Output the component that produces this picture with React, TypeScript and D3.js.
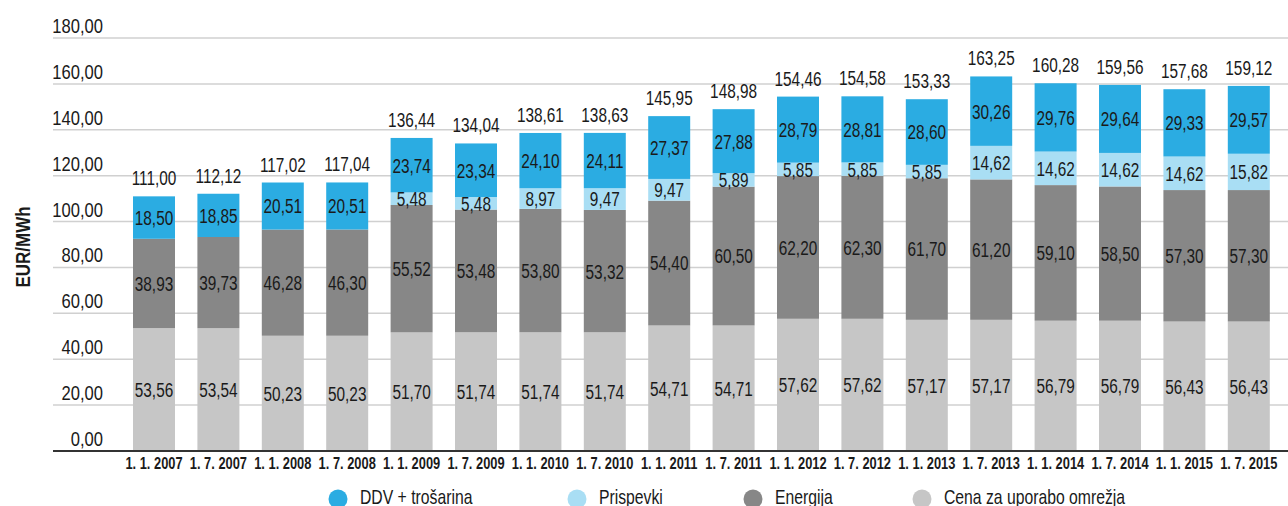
import React from "react";
import * as d3 from "d3";

const dates = [
  "1. 1. 2007", "1. 7. 2007", "1. 1. 2008", "1. 7. 2008", "1. 1. 2009", "1. 7. 2009",
  "1. 1. 2010", "1. 7. 2010", "1. 1. 2011", "1. 7. 2011", "1. 1. 2012", "1. 7. 2012",
  "1. 1. 2013", "1. 7. 2013", "1. 1. 2014", "1. 7. 2014", "1. 1. 2015", "1. 7. 2015",
];
const cena = [53.56, 53.54, 50.23, 50.23, 51.70, 51.74, 51.74, 51.74, 54.71, 54.71, 57.62, 57.62, 57.17, 57.17, 56.79, 56.79, 56.43, 56.43];
const energija = [38.93, 39.73, 46.28, 46.30, 55.52, 53.48, 53.80, 53.32, 54.40, 60.50, 62.20, 62.30, 61.70, 61.20, 59.10, 58.50, 57.30, 57.30];
const prispevki = [0, 0, 0, 0, 5.48, 5.48, 8.97, 9.47, 9.47, 5.89, 5.85, 5.85, 5.85, 14.62, 14.62, 14.62, 14.62, 15.82];
const ddv = [18.50, 18.85, 20.51, 20.51, 23.74, 23.34, 24.10, 24.11, 27.37, 27.88, 28.79, 28.81, 28.60, 30.26, 29.76, 29.64, 29.33, 29.57];
const totals = [111.00, 112.12, 117.02, 117.04, 136.44, 134.04, 138.61, 138.63, 145.95, 148.98, 154.46, 154.58, 153.33, 163.25, 160.28, 159.56, 157.68, 159.12];
const yTicks = [0, 20, 40, 60, 80, 100, 120, 140, 160, 180];

const seriesNames = ["Cena za uporabo omrežja", "Energija", "Prispevki", "DDV + trošarina"];
const seriesColors = ["#C6C6C6", "#878787", "#A9DEF4", "#2BACE2"];
const seriesValues = [cena, energija, prispevki, ddv];
const legendOrder = [3, 2, 1, 0];

const W = 1288;
const H = 506;
const FONT = "'Liberation Sans', Arial, sans-serif";
const fmt = (v: number) => v.toFixed(2).replace(".", ",");

function CText(props: {
  x: number;
  y: number;
  sx?: number;
  rotate?: number;
  size: number;
  bold?: boolean;
  anchor?: string;
  dy?: string;
  children: React.ReactNode;
}) {
  const { x, y, sx = 0.8, rotate = 0, size, bold, anchor = "middle", dy, children } = props;
  return (
    <text
      transform={`translate(${x},${y}) rotate(${rotate}) scale(${sx},1)`}
      textAnchor={anchor}
      dy={dy}
      fontFamily={FONT}
      fontSize={size}
      fontWeight={bold ? "bold" : "normal"}
      fill="#1a1a1a"
    >
      {children}
    </text>
  );
}

export default function App() {
  const x = d3.scaleBand<string>().domain(dates).range([121.8, 1281]).paddingInner(0.348).paddingOuter(0.174);
  const y = d3.scaleLinear().domain([0, 180]).range([451, 38]);
  const cx = (d: string) => (x(d) as number) + x.bandwidth() / 2;

  const rows = dates.map((d, i) => {
    const r: any = { date: d };
    seriesNames.forEach((n, k) => (r[n] = seriesValues[k][i]));
    return r;
  });
  const stacked = d3.stack<any>().keys(seriesNames)(rows);

  const legendX = [338, 577, 753, 922];

  return (
    <svg width={W} height={H} style={{ position: "absolute", left: 0, top: 0, background: "#fff" }}>
      {yTicks.map((t) => (
        <g key={t}>
          <line x1={53} x2={W} y1={y(t)} y2={y(t)} stroke="#D0D0D0" strokeWidth={1.5} />
          <CText x={103} y={y(t) - 5} size={21} anchor="end" sx={0.79}>
            {fmt(t)}
          </CText>
        </g>
      ))}
      <CText x={30} y={247} rotate={-90} size={20} bold sx={0.85}>
        EUR/MWh
      </CText>
      {stacked.map((s, k) => (
        <g key={s.key} fill={seriesColors[k]}>
          {s.map((d, i) => (
            <rect
              key={i}
              x={x(dates[i])}
              width={x.bandwidth()}
              y={y(d[1])}
              height={Math.max(0, y(d[0]) - y(d[1]))}
            />
          ))}
        </g>
      ))}
      {stacked.map((s, k) => (
        <g key={s.key + "l"}>
          {s.map((d, i) =>
            seriesValues[k][i] > 0 ? (
              <CText key={i} x={cx(dates[i])} y={(y(d[0]) + y(d[1])) / 2} dy="0.36em" size={20.5} sx={0.75}>
                {fmt(seriesValues[k][i])}
              </CText>
            ) : null
          )}
        </g>
      ))}
      {totals.map((t, i) => (
        <CText key={i} x={cx(dates[i])} y={y(stacked[3][i][1]) - 11} size={20.5} sx={0.75}>
          {fmt(t)}
        </CText>
      ))}
      <line x1={53} x2={W} y1={451} y2={451} stroke="#333" strokeWidth={2} />
      {dates.map((d) => (
        <CText key={d} x={cx(d)} y={469} size={16.5} bold sx={0.78}>
          {d}
        </CText>
      ))}
      {legendOrder.map((k, j) => (
        <g key={k}>
          <circle cx={legendX[j]} cy={499} r={9.5} fill={seriesColors[k]} />
          <CText x={legendX[j] + 22} y={504} size={21} anchor="start" sx={0.75}>
            {seriesNames[k]}
          </CText>
        </g>
      ))}
    </svg>
  );
}
